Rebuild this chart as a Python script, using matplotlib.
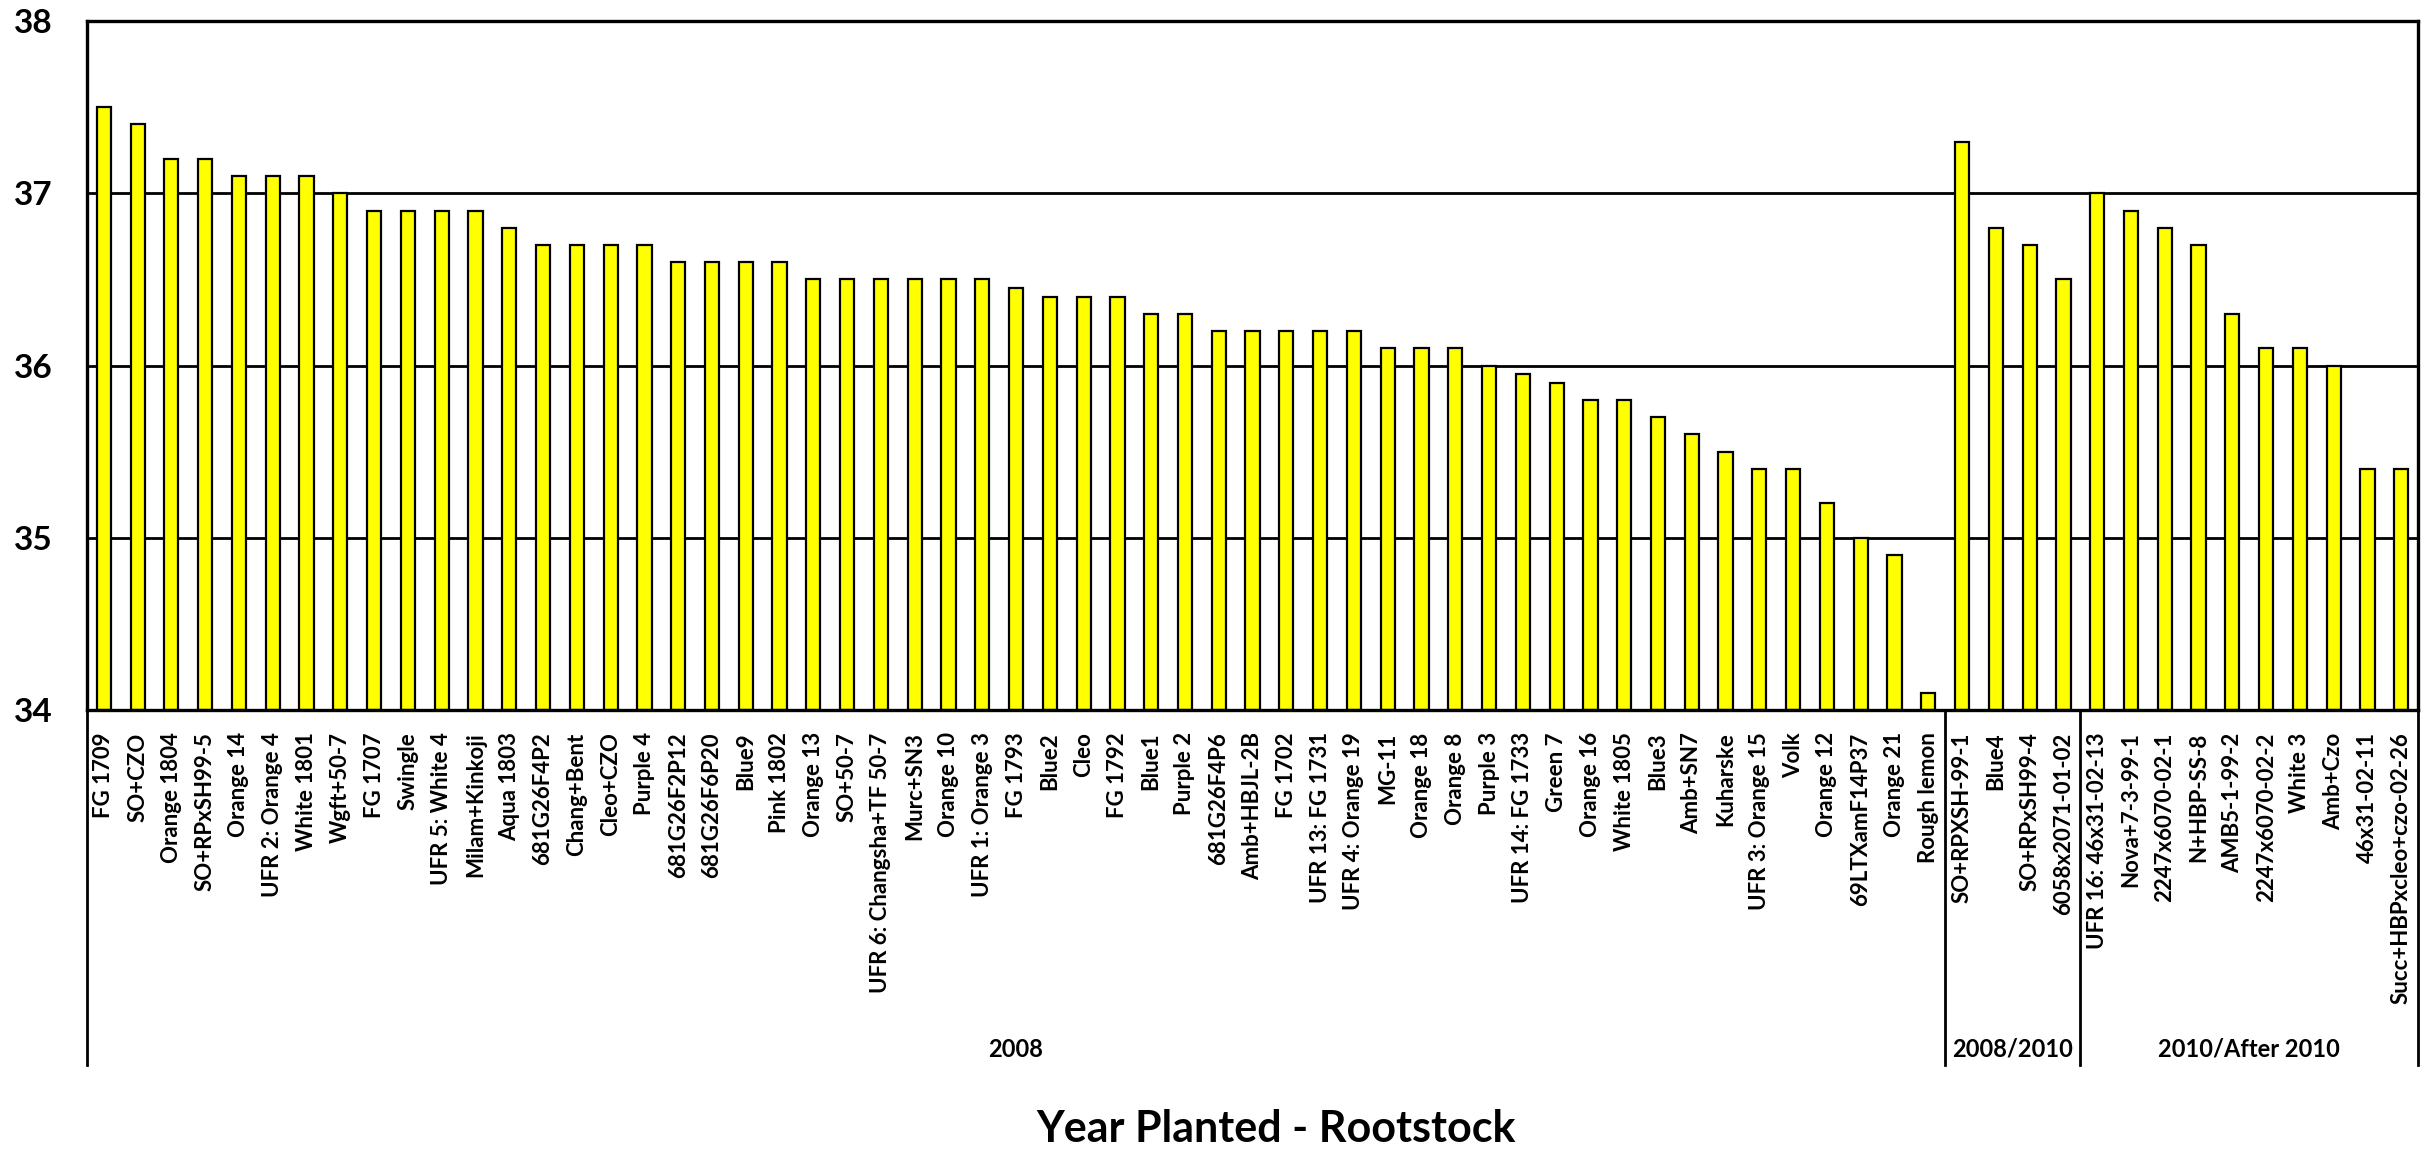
#!/usr/bin/env python3

import matplotlib
matplotlib.use("Agg")
import matplotlib.pyplot as plt
import matplotlib.transforms as mtransforms


# Rootstocks planted in 2008
labels_2008 = [
    "FG 1709", "SO+CZO", "Orange 1804", "SO+RPxSH99-5", "Orange 14",
    "UFR 2: Orange 4", "White 1801", "Wgft+50-7", "FG 1707", "Swingle",
    "UFR 5: White 4", "Milam+Kinkoji", "Aqua 1803", "681G26F4P2", "Chang+Bent",
    "Cleo+CZO", "Purple 4", "681G26F2P12", "681G26F6P20", "Blue9",
    "Pink 1802", "Orange 13", "SO+50-7", "UFR 6: Changsha+TF 50-7", "Murc+SN3",
    "Orange 10", "UFR 1: Orange 3", "FG 1793", "Blue2", "Cleo",
    "FG 1792", "Blue1", "Purple 2", "681G26F4P6", "Amb+HBJL-2B",
    "FG 1702", "UFR 13: FG 1731", "UFR 4: Orange 19", "MG-11", "Orange 18",
    "Orange 8", "Purple 3", "UFR 14: FG 1733", "Green 7", "Orange 16",
    "White 1805", "Blue3", "Amb+SN7", "Kuharske", "UFR 3: Orange 15",
    "Volk", "Orange 12", "69LTXamF14P37", "Orange 21", "Rough lemon",
]
values_2008 = [
    37.5, 37.4, 37.2, 37.2, 37.1,
    37.1, 37.1, 37.0, 36.9, 36.9,
    36.9, 36.9, 36.8, 36.7, 36.7,
    36.7, 36.7, 36.6, 36.6, 36.6,
    36.6, 36.5, 36.5, 36.5, 36.5,
    36.5, 36.5, 36.45, 36.4, 36.4,
    36.4, 36.3, 36.3, 36.2, 36.2,
    36.2, 36.2, 36.2, 36.1, 36.1,
    36.1, 36.0, 35.95, 35.9, 35.8,
    35.8, 35.7, 35.6, 35.5, 35.4,
    35.4, 35.2, 35.0, 34.9, 34.1,
]

# Rootstocks planted 2008/2010
labels_2008_2010 = ["SO+RPXSH-99-1", "Blue4", "SO+RPxSH99-4", "6058x2071-01-02"]
values_2008_2010 = [37.3, 36.8, 36.7, 36.5]

# Rootstocks planted 2010 or later
labels_2010 = [
    "UFR 16: 46x31-02-13", "Nova+7-3-99-1", "2247x6070-02-1", "N+HBP-SS-8",
    "AMB5-1-99-2", "2247x6070-02-2", "White 3", "Amb+Czo", "46x31-02-11",
    "Succ+HBPxcleo+czo-02-26",
]
values_2010 = [37.0, 36.9, 36.8, 36.7, 36.3, 36.1, 36.1, 36.0, 35.4, 35.4]

group_names = ["2008", "2008/2010", "2010/After 2010"]
yticks = [34, 35, 36, 37, 38]


def main():
    plt.rcParams["font.family"] = ["Lato", "DejaVu Sans"]
    plt.rcParams["font.weight"] = "bold"

    labels = labels_2008 + labels_2008_2010 + labels_2010
    values = values_2008 + values_2008_2010 + values_2010
    sizes = [len(labels_2008), len(labels_2008_2010), len(labels_2010)]
    x = list(range(len(labels)))

    fig = plt.figure(figsize=(24.35, 11.57), dpi=100)
    ax = fig.add_axes([0.0357, 0.3863, 0.9574, 0.5955])

    ############################################################
    # Bars and grid
    ############################################################
    ax.bar(x, [v - yticks[0] for v in values], bottom=yticks[0], width=0.42,
           color="#ffff00", edgecolor="black", linewidth=1.6, zorder=3)

    ax.set_xlim(-0.5, len(labels) - 0.5)
    ax.set_ylim(yticks[0], yticks[-1])
    ax.set_yticks(yticks)
    ax.set_yticklabels([str(t) for t in yticks], fontsize=24, fontweight="bold")
    ax.tick_params(axis="y", length=0, pad=25)
    ax.yaxis.grid(True, color="black", linewidth=2.0, zorder=1)
    for s in ax.spines.values():
        s.set_linewidth(2.4)
        s.set_zorder(4)

    ax.set_xticks(x)
    ax.set_xticklabels(labels, rotation=90, ha="center", va="top",
                       fontsize=16, fontweight="bold")
    ax.tick_params(axis="x", length=0, pad=16)

    ############################################################
    # Grouped category axis (year planted)
    ############################################################
    trans = mtransforms.blended_transform_factory(ax.transData, ax.transAxes)
    line_bottom = -0.515
    edges = [-0.5]
    for n in sizes:
        edges.append(edges[-1] + n)
    for e in edges:
        ax.plot([e, e], [0, line_bottom], transform=trans, color="black",
                linewidth=2.0, clip_on=False, zorder=5)

    for name, lo, hi in zip(group_names, edges[:-1], edges[1:]):
        ax.text((lo + hi) / 2, -0.492, name, transform=trans, ha="center",
                va="center", fontsize=17, fontweight="bold")

    fig.text(0.524, 0.024, "Year Planted - Rootstock", ha="center",
             va="center", fontsize=31, fontweight="bold")

    fig.savefig("out.png", dpi=100)


if __name__ == "__main__":
    main()
